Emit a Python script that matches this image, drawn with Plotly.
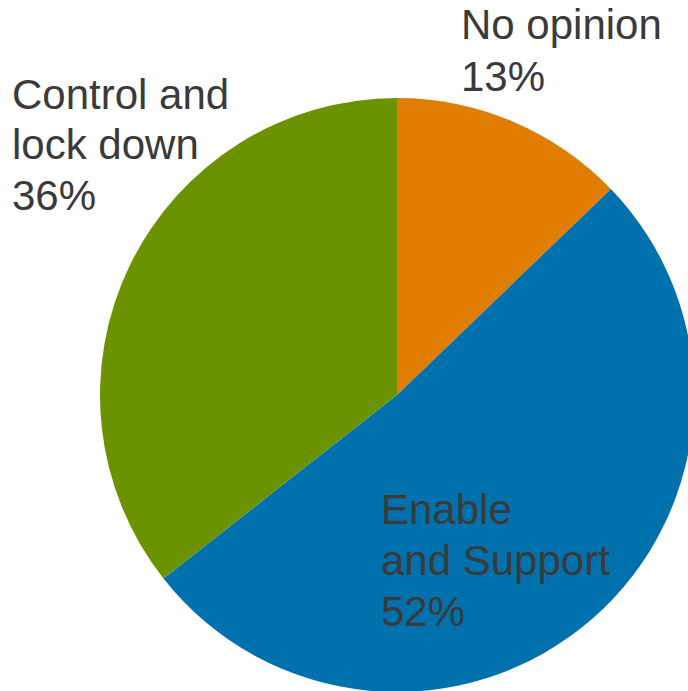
import plotly.graph_objects as go

# Data
categories = ["No opinion", "Enable and Support", "Control and lock down"]
values = [12.8, 51.6, 35.6]
label_lines = [["No opinion"], ["Enable", "and Support"], ["Control and", "lock down"]]
colors = ["#E17D00", "#0071AC", "#6B9300"]

# canvas slightly larger than the 688x691 window; the window clips the overflow
W, H = 694, 694
FONT = dict(family="Liberation Sans, Arial, sans-serif", size=42, color="#3A3A3A")

fig = go.Figure(go.Pie(
    labels=categories,
    values=values,
    sort=False,
    direction="clockwise",
    rotation=0,
    textinfo="none",
    hoverinfo="label+percent",
    marker=dict(colors=colors, line=dict(width=0)),
    domain=dict(x=[100 / W, 1.0], y=[(H - 692) / H, (H - 98) / H]),
    showlegend=False,
))

# label placement (pixel: left x, first-line centre y, line step)
placements = [(459, 25, 52), (379, 509, 51), (10, 94, 50.5)]
total = sum(values)
annotations = []
for lines, v, (px, py, step) in zip(label_lines, values, placements):
    all_lines = lines + [f"{round(100 * v / total)}%"]
    for i, t in enumerate(all_lines):
        annotations.append(dict(
            text=t, x=px / W, y=(H - (py + i * step)) / H,
            xref="paper", yref="paper", xanchor="left", yanchor="middle",
            showarrow=False, font=FONT,
        ))

fig.update_layout(
    width=W, height=H,
    margin=dict(l=0, r=0, t=0, b=0),
    paper_bgcolor="white",
    plot_bgcolor="white",
    annotations=annotations,
)

fig.write_html(
    "out.html",
    config={"displayModeBar": False},
    post_script="document.body.style.margin='0';document.body.style.overflow='hidden';",
)
